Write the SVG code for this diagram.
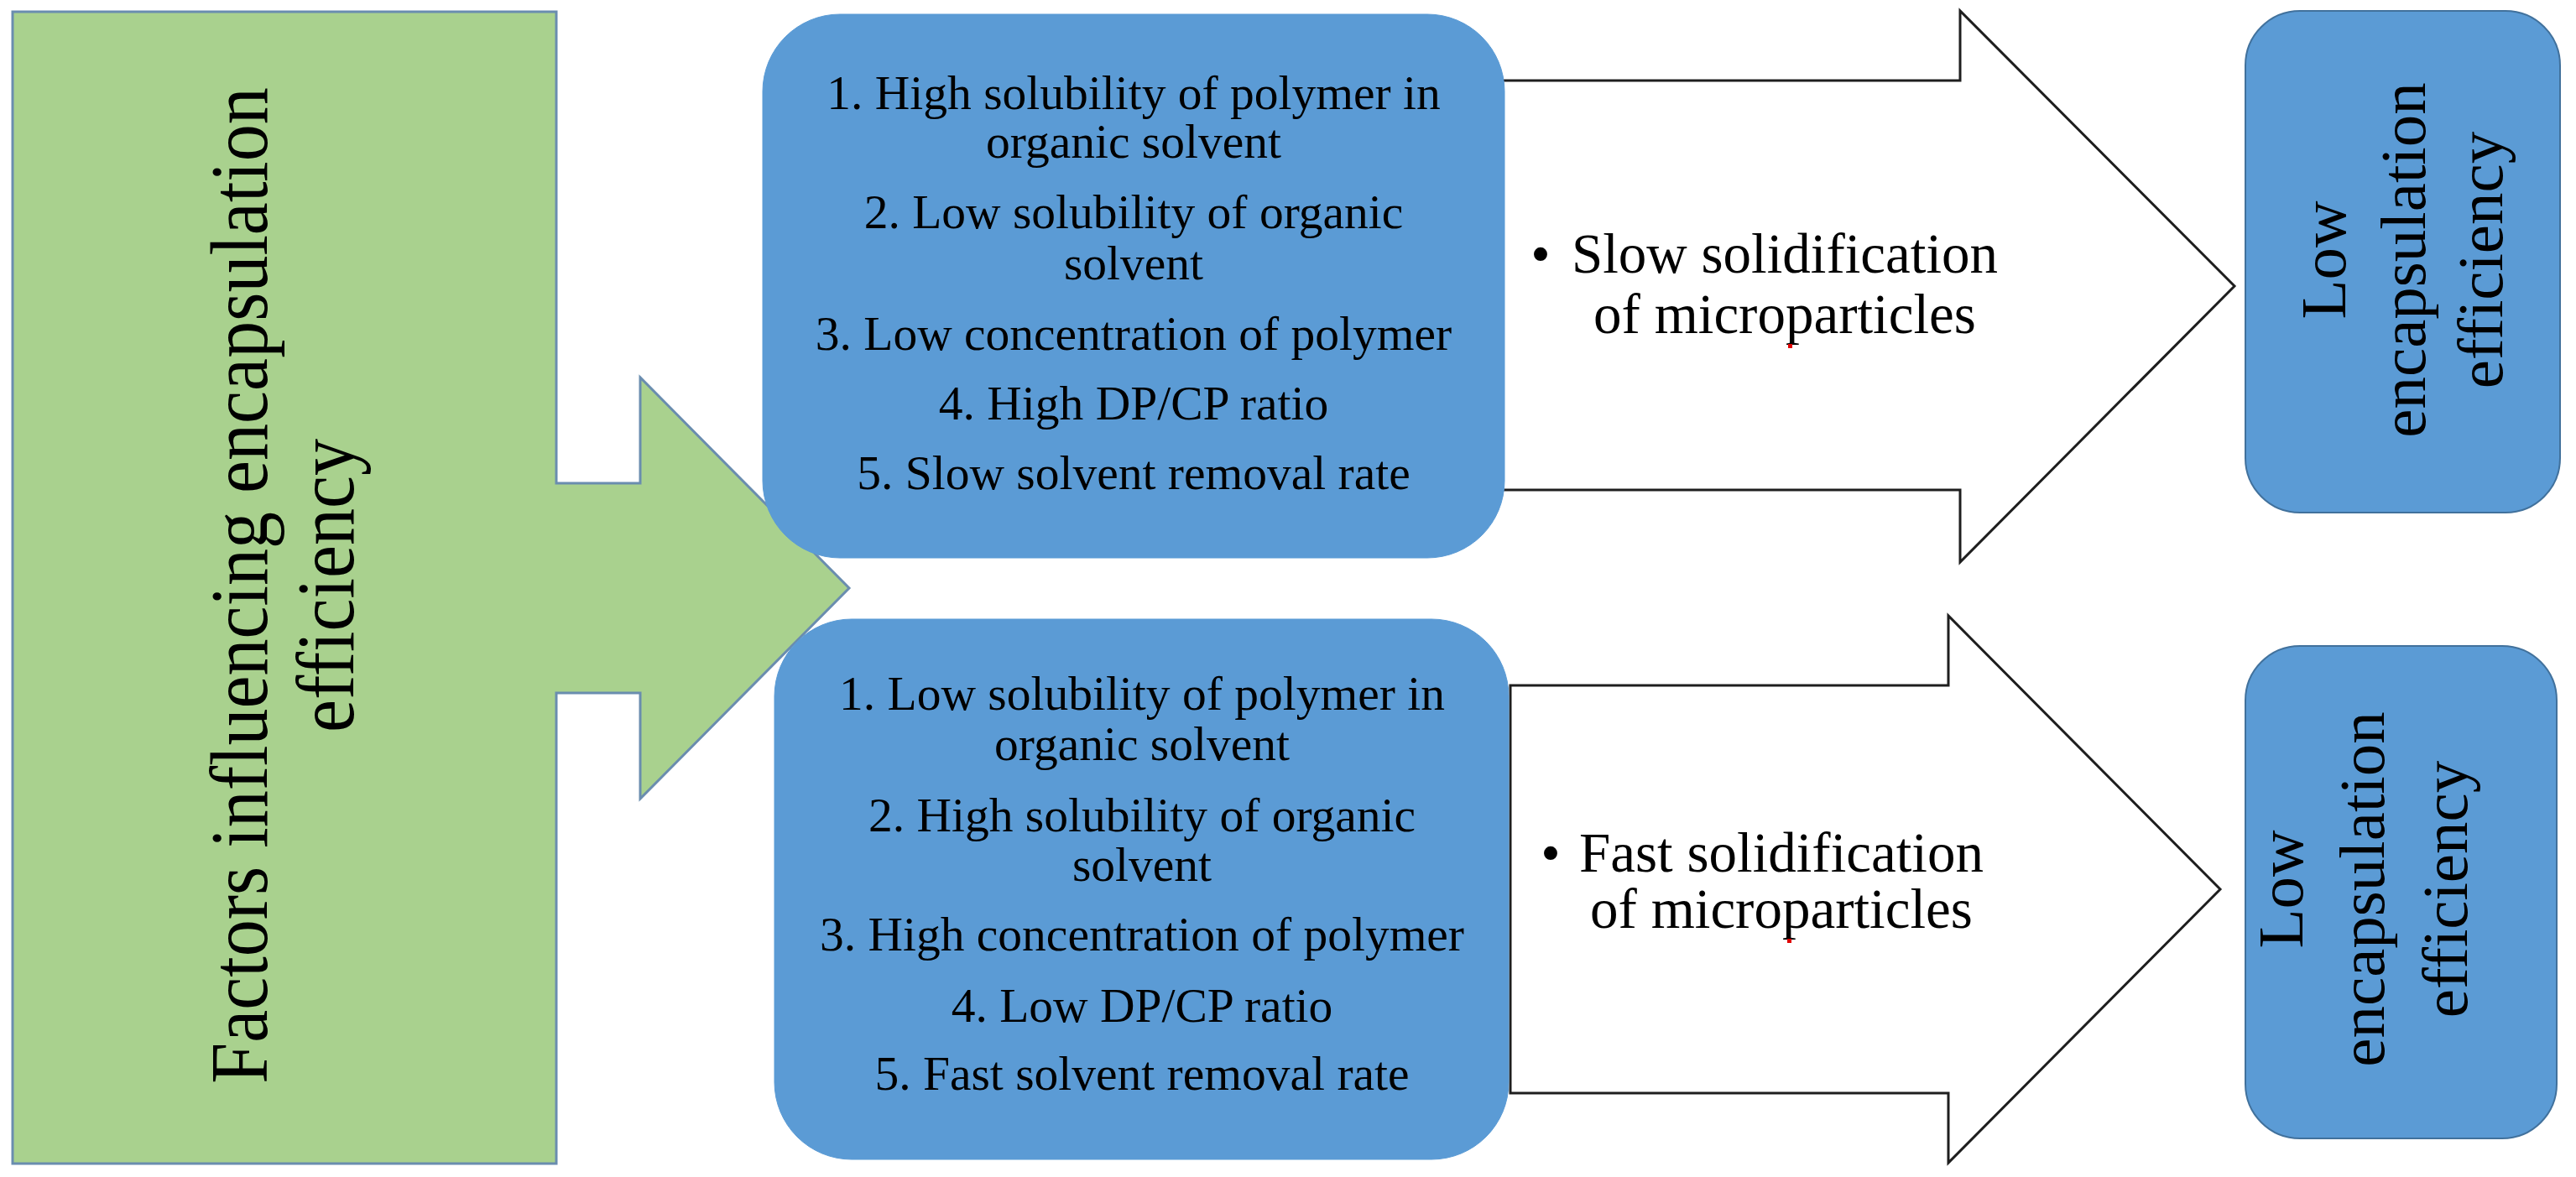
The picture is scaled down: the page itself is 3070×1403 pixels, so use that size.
<svg xmlns="http://www.w3.org/2000/svg" width="3070" height="1403" viewBox="0 0 3070 1403">
<style>
.t{font-family:"Liberation Serif","Times New Roman",serif;fill:#000;text-anchor:middle}
.list{font-size:57.5px}
.arr{font-size:67px}
.res{font-size:77px}
.big{font-size:88px}
.green{fill:#A9D18E;stroke:#6A8DAF;stroke-width:3}
.mid{fill:#5B9BD5;stroke:#5B9BD5;stroke-width:1}
.right{fill:#5B9BD5;stroke:#41719C;stroke-width:2}
.white{fill:#FFFFFF;stroke:#1E1E1E;stroke-width:3}
</style>
<rect width="3070" height="1403" fill="#FFFFFF"/>
<g id="factors">
<polygon class="green" points="15,14 663,14 663,576 763,576 763,450 1012,701 763,952 763,826 663,826 663,1387 15,1387"/>
<text class="t big" transform="translate(318,698) rotate(-90) scale(1,1.1)">Factors influencing encapsulation</text>
<text class="t big" transform="translate(421,698) rotate(-90) scale(1,1.1)">efficiency</text>
</g>
<g id="connectors">
<g id="arrow-slow">
<polygon class="white" points="1790,96 2336,96 2336,13 2663,341 2336,670 2336,584 1790,584"/>
<text class="t arr" x="1836" y="325">•</text>
<text class="t arr" x="2127" y="325">Slow solidification</text>
<text class="t arr" x="2127" y="397">of microparticles</text>
<rect x="2131" y="410" width="5" height="5" fill="#E00000"/>
</g>
<g id="arrow-fast">
<polygon class="white" points="1800,817 2322,817 2322,734 2646,1060 2322,1386 2322,1303 1800,1303"/>
<text class="t arr" x="1848" y="1039">•</text>
<text class="t arr" x="2123" y="1039">Fast solidification</text>
<text class="t arr" x="2123" y="1106">of microparticles</text>
<rect x="2130" y="1119" width="5" height="5" fill="#E00000"/>
</g>
</g>
<g id="slow-factors">
<rect class="mid" x="909" y="17" width="884" height="648" rx="92" ry="92"/>
<text class="t list" x="1351" y="130">1. High solubility of polymer in</text>
<text class="t list" x="1351" y="188">organic solvent</text>
<text class="t list" x="1351" y="272">2. Low solubility of organic</text>
<text class="t list" x="1351" y="333">solvent</text>
<text class="t list" x="1351" y="417">3. Low concentration of polymer</text>
<text class="t list" x="1351" y="500">4. High DP/CP ratio</text>
<text class="t list" x="1351" y="583">5. Slow solvent removal rate</text>
</g>
<g id="fast-factors">
<rect class="mid" x="923" y="738" width="875" height="644" rx="92" ry="92"/>
<text class="t list" x="1361" y="846">1. Low solubility of polymer in</text>
<text class="t list" x="1361" y="906">organic solvent</text>
<text class="t list" x="1361" y="991">2. High solubility of organic</text>
<text class="t list" x="1361" y="1050">solvent</text>
<text class="t list" x="1361" y="1133">3. High concentration of polymer</text>
<text class="t list" x="1361" y="1218">4. Low DP/CP ratio</text>
<text class="t list" x="1361" y="1299">5. Fast solvent removal rate</text>
</g>
<g id="result-top">
<rect class="right" x="2676" y="13" width="375" height="598" rx="65" ry="65"/>
<text class="t res" transform="translate(2795,310) rotate(-90)">Low</text>
<text class="t res" transform="translate(2890,310) rotate(-90)">encapsulation</text>
<text class="t res" transform="translate(2982,310) rotate(-90)">efficiency</text>
</g>
<g id="result-bottom">
<rect class="right" x="2676" y="770" width="371" height="587" rx="65" ry="65"/>
<text class="t res" transform="translate(2744,1060) rotate(-90)">Low</text>
<text class="t res" transform="translate(2841,1060) rotate(-90)">encapsulation</text>
<text class="t res" transform="translate(2940,1060) rotate(-90)">efficiency</text>
</g>
</svg>
